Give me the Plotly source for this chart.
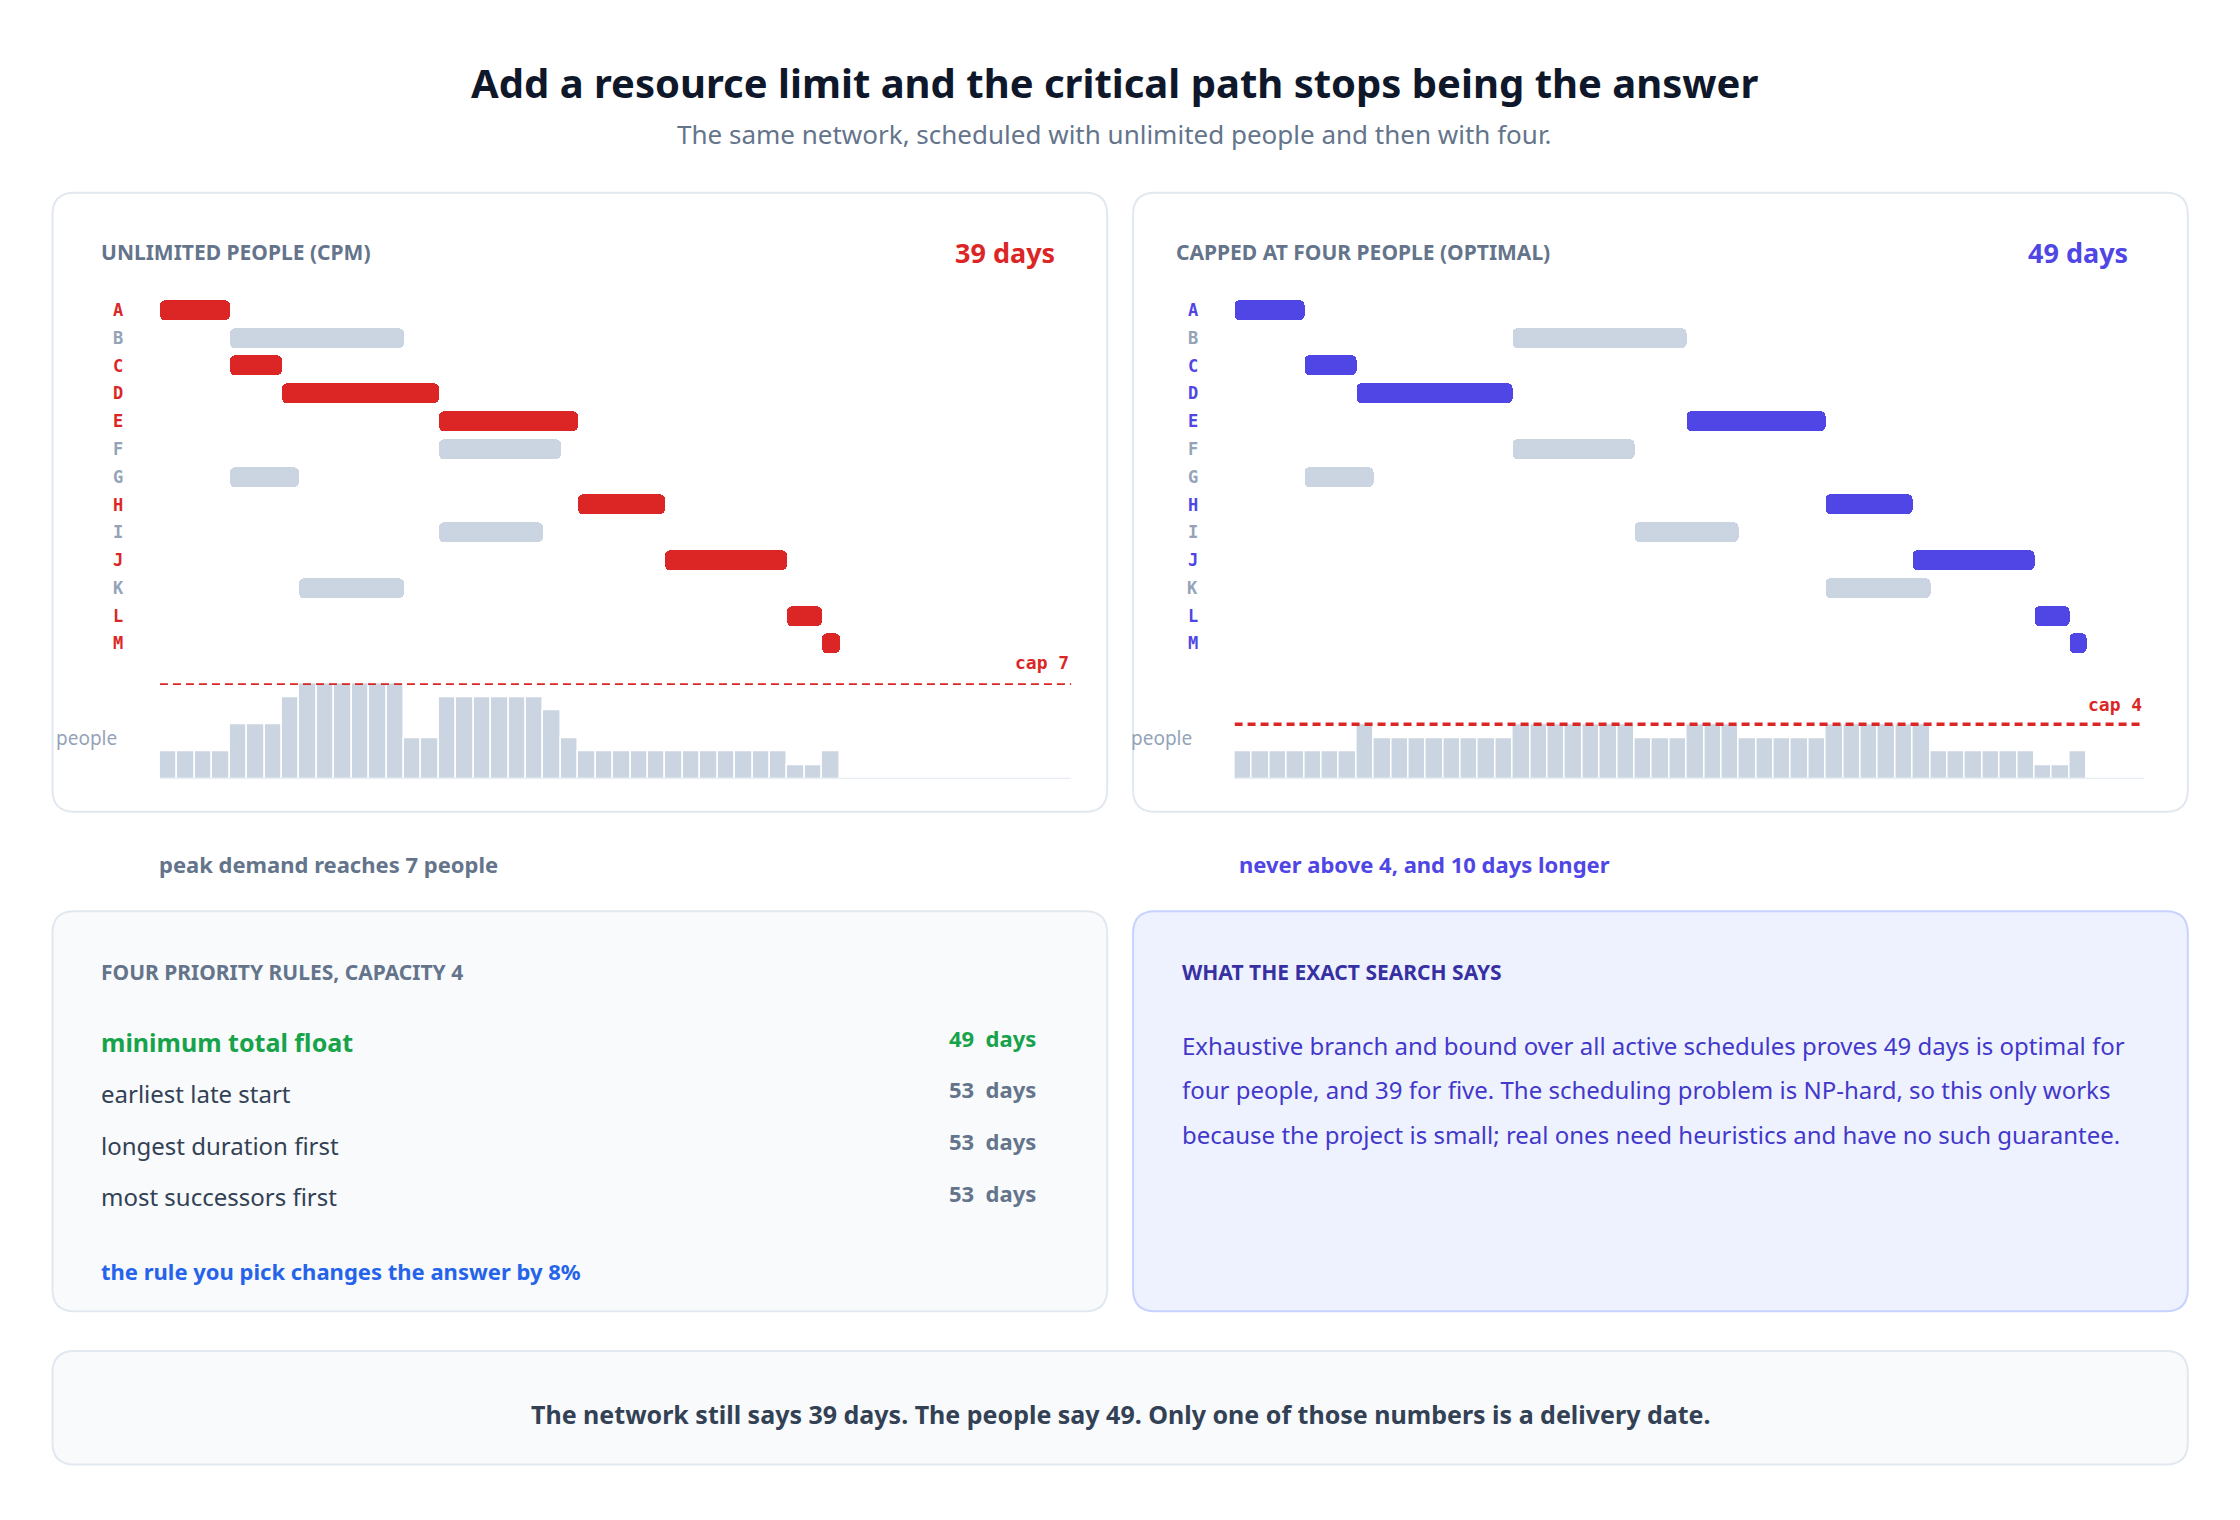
import plotly.graph_objects as go

W, H = 2240, 1520

tasks = ["A", "B", "C", "D", "E", "F", "G", "H", "I", "J", "K", "L", "M"]
durations = [4, 10, 3, 9, 8, 7, 4, 5, 6, 7, 6, 2, 1]
people = [2, 2, 1, 3, 3, 2, 1, 2, 1, 2, 2, 1, 2]
critical = ["A", "C", "D", "E", "H", "J", "L", "M"]
cpm_start = [0, 4, 4, 7, 16, 16, 4, 24, 16, 29, 8, 36, 38]
capped_start = [0, 16, 4, 7, 26, 16, 4, 34, 23, 39, 34, 46, 48]

rules = ["minimum total float", "earliest late start", "longest duration first", "most successors first"]
rule_days = [49, 53, 53, 53]

FONT = "Noto Sans"
MONO = "DejaVu Sans Mono"
RED = "#dc2626"
BLUE = "#4f46e5"
GREY = "#cbd5e1"


def fix(v):
    # small correction of my hand-measured pixel positions
    return (v - 8.3) / 1.005


def px(x):
    return fix(x) / W


def py(y):
    return 1 - fix(y) / H


def demand(starts):
    end = max(s + d for s, d in zip(starts, durations))
    load = [0] * end
    for s, d, p in zip(starts, durations, people):
        for t in range(s, s + d):
            load[t] += p
    return load


def card(x0, y0, x1, y1, fill, line, r=22):
    rx, ry = r / W, r / H
    a, b, c, d = px(x0), py(y1), px(x1), py(y0)
    path = (f"M {a+rx},{b} L {c-rx},{b} Q {c},{b} {c},{b+ry} L {c},{d-ry} Q {c},{d} {c-rx},{d} "
            f"L {a+rx},{d} Q {a},{d} {a},{d-ry} L {a},{b+ry} Q {a},{b} {a+rx},{b} Z")
    return dict(type="path", path=path, xref="paper", yref="paper", fillcolor=fill,
                line=dict(color=line, width=2), layer="below")


fig = go.Figure()
shapes = [
    card(53, 194, 1113, 816, "white", "#e2e8f0"),
    card(1139, 194, 2199, 816, "white", "#e2e8f0"),
    card(53, 916, 1113, 1318, "#f8fafc", "#e2e8f0"),
    card(1139, 916, 2199, 1318, "#eef2ff", "#c7d2fe"),
    card(53, 1358, 2199, 1472, "#f8fafc", "#e2e8f0"),
]
ann = []


def txt(x, y, s, size, color, anchor="left", bold=False, font=FONT):
    ann.append(dict(x=px(x), y=py(y), xref="paper", yref="paper", text=f"<b>{s}</b>" if bold else s,
                    showarrow=False, xanchor=anchor, yanchor="middle",
                    font=dict(family=font, size=size, color=color)))


panels = [
    (cpm_start, RED, 7, 161, 1077, "x", "y", "y2", "UNLIMITED PEOPLE (CPM)", "39 days", 666),
    (capped_start, BLUE, 4, 1241, 2155, "x2", "y3", "y4", "CAPPED AT FOUR PEOPLE (OPTIMAL)", "49 days", 708),
]
layout_axes = {}
for i, (starts, col, cap, xl, xr, xa, ya, yh, title, total, cap_y) in enumerate(panels):
    colors = [col if t in critical else GREY for t in tasks]
    fig.add_trace(go.Bar(y=tasks, x=durations, base=starts, orientation="h", marker=dict(color=colors, cornerradius=5, line_width=0),
                         width=0.72, xaxis=xa, yaxis=ya, showlegend=False, hoverinfo="skip"))
    load = demand(starts)
    fig.add_trace(go.Bar(x=[d + 0.5 for d in range(len(load))], y=load, width=1, marker=dict(color=GREY, line=dict(color="white", width=1.5)),
                         xaxis=xa, yaxis=yh, showlegend=False, hoverinfo="skip"))
    xdom = [px(xl), px(xr)]
    n = "" if i == 0 else "2"
    layout_axes[f"xaxis{n}"] = dict(domain=xdom, range=[0, 52.3], visible=False, anchor=yh)
    g = "" if i == 0 else "3"
    hn = "2" if i == 0 else "4"
    layout_axes[f"yaxis{g}"] = dict(domain=[py(661), py(298)], range=[12.5, -0.5], visible=False,
                                    anchor=xa, type="category", categoryarray=tasks)
    layout_axes[f"yaxis{hn}"] = dict(domain=[py(783), py(687)], range=[0, 7], visible=False, anchor=xa)
    hy = "y2" if i == 0 else "y4"
    shapes.append(dict(type="line", xref=xa, yref=hy, x0=0, x1=52.3, y0=cap, y1=cap,
                       line=dict(color=RED, width=3.5, dash="8px,5px")))
    shapes.append(dict(type="line", xref=xa, yref=hy, x0=0, x1=52.3, y0=0, y1=0, line=dict(color="#e2e8f0", width=2)))
    for k, t in enumerate(tasks):
        txt(xl - 42, 312 + k * 27.9, t, 17, col if t in critical else "#94a3b8", "center", True, MONO)
    txt(xr, cap_y, f"cap {cap}", 18, RED, "right", True, MONO)
    txt(xl - 106, 742, "people", 19, "#94a3b8")
    txt(xl - 61, 254, title, 21, "#64748b", bold=True)
    txt(xr - 14, 254, total, 27, col, "right", True)

txt(1120, 83, "Add a resource limit and the critical path stops being the answer", 40, "#0f172a", "center", True)
txt(1120, 135, "The same network, scheduled with unlimited people and then with four.", 26, "#64748b", "center")
txt(158, 869, "peak demand reaches 7 people", 22, "#64748b", bold=True)
txt(1243, 869, "never above 4, and 10 days longer", 22, BLUE, bold=True)

txt(100, 977, "FOUR PRIORITY RULES, CAPACITY 4", 21, "#64748b", bold=True)
for k, (r, d) in enumerate(zip(rules, rule_days)):
    best = d == min(rule_days)
    c = "#16a34a" if best else "#334155"
    txt(100, 1047 + k * 52, r, 25 if best else 24, c, bold=best)
    txt(1043, 1043 + k * 52, f"{d}&nbsp;&nbsp;days", 22, "#16a34a" if best else "#64748b", "right", True)
txt(100, 1278, "the rule you pick changes the answer by 8%", 22, "#2563eb", bold=True)

txt(1186, 977, "WHAT THE EXACT SEARCH SAYS", 21, "#3730a3", bold=True)
para = ["Exhaustive branch and bound over all active schedules proves 49 days is optimal for",
        "four people, and 39 for five. The scheduling problem is NP-hard, so this only works",
        "because the project is small; real ones need heuristics and have no such guarantee."]
for k, line in enumerate(para):
    txt(1186, 1051 + k * 44.5, line, 24, "#4338ca")

txt(1126, 1421, "The network still says 39 days. The people say 49. Only one of those numbers is a delivery date.", 25, "#334155", "center", True)

fig.update_layout(width=W, height=H, margin=dict(l=0, r=0, t=0, b=0), paper_bgcolor="white", plot_bgcolor="rgba(0,0,0,0)",
                  shapes=shapes, annotations=ann, bargap=0, **layout_axes)
fig.write_html("out.html")
